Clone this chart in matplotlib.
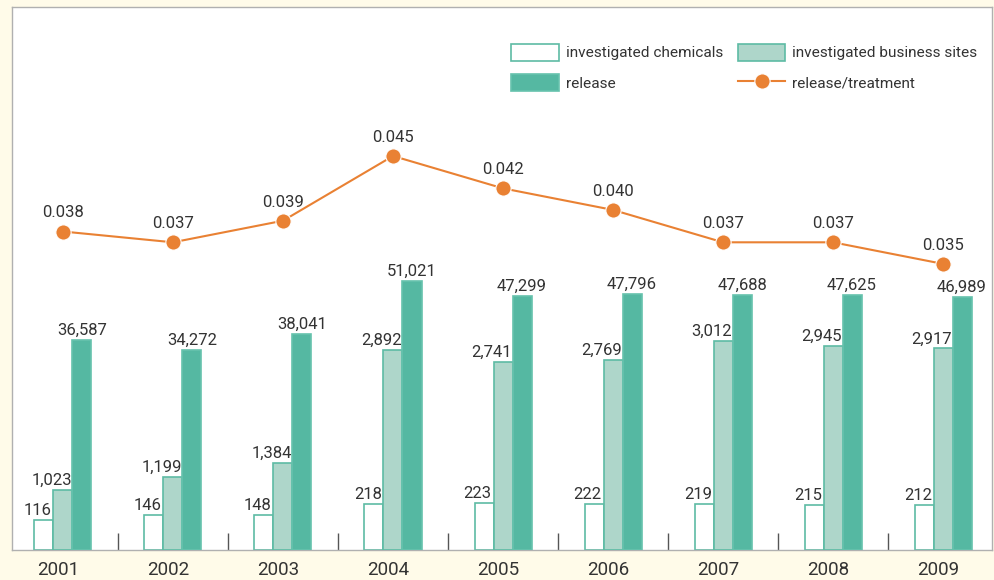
import numpy as np
import matplotlib
matplotlib.use("Agg")
import matplotlib.pyplot as plt
from matplotlib.lines import Line2D
from matplotlib.patches import Patch

plt.rcParams['font.family'] = ['Roboto', 'DejaVu Sans']

years = ["2001", "2002", "2003", "2004", "2005", "2006", "2007", "2008", "2009"]
chemicals = [116, 146, 148, 218, 223, 222, 219, 215, 212]
sites = [1023, 1199, 1384, 2892, 2741, 2769, 3012, 2945, 2917]
release = [36587, 34272, 38041, 51021, 47299, 47796, 47688, 47625, 46989]
ratio = [0.038, 0.037, 0.039, 0.045, 0.042, 0.040, 0.037, 0.037, 0.035]

BG = "#fffbe9"
TXT = "#333333"
EDGE = "#5dbba4"
LIGHT = "#aed6ca"
DARK = "#55b8a2"
ORANGE = "#e98133"

fig = plt.figure(figsize=(9.95, 5.8), dpi=100, facecolor=BG)
ax = fig.add_axes([12 / 995, 30 / 580, 980 / 995, 543 / 580])
ax.set_facecolor("white")
for s in ax.spines.values():
    s.set_color("#b0b0b0")
    s.set_linewidth(1.0)

x = np.arange(len(years))
w = 19 / 110

# each series sits on its own scale (the source chart is not to one scale)
ax_s = ax.twinx()
ax_r = ax.twinx()
ax_l = ax.twinx()

ax.set_ylim(-76, 3414)
ax_s.set_ylim(226, 7475)
ax_r.set_ylim(-14600, 117800)
ax_l.set_ylim(0.00848, 0.05881)

def draw_bars(a, vals, offset, face, edge, dx_pt):
    lo = a.get_ylim()[0]
    v = np.array(vals, dtype=float)
    a.bar(x + offset, v - lo, bottom=lo, width=w, color=face,
          edgecolor=edge, linewidth=1.2, zorder=2)
    for xi, vi in zip(x + offset, vals):
        a.annotate(f"{vi:,}", (xi, vi), xytext=(dx_pt, 1.5),
                   textcoords="offset points", ha="center", va="bottom",
                   fontsize=12, color=TXT)

draw_bars(ax, chemicals, -w, "white", EDGE, -4.5)
draw_bars(ax_s, sites, 0, LIGHT, EDGE, -8)
draw_bars(ax_r, release, w, DARK, "#66c2ad", 0)

ax_l.plot(x, ratio, color=ORANGE, lw=1.5, marker="o", ms=11,
          markeredgecolor="white", markeredgewidth=0.8, zorder=5)
for xi, vi in zip(x, ratio):
    ax_l.annotate(f"{vi:.3f}", (xi, vi), xytext=(0, 8),
                  textcoords="offset points", ha="center", va="bottom",
                  fontsize=12, color=TXT)

for a in (ax_s, ax_r, ax_l):
    for s in a.spines.values():
        s.set_visible(False)
    a.set_yticks([])

ax.set_xlim(-0.4636, 8.4454)
ax.set_yticks([])
ax.set_xticks(x[:-1] + 0.5)
ax.tick_params(axis="x", which="major", direction="in", length=12,
               color="#555555", width=1.0, labelbottom=False)
ax.set_xticks(x - 0.045, minor=True)
ax.set_xticklabels(years, minor=True)
ax.tick_params(axis="x", which="minor", length=0, pad=8,
               labelsize=13.5, labelcolor=TXT)

handles = [
    Patch(facecolor="white", edgecolor=EDGE, linewidth=1.2),
    Patch(facecolor=DARK, edgecolor="#66c2ad", linewidth=1.2),
    Patch(facecolor=LIGHT, edgecolor=EDGE, linewidth=1.2),
    Line2D([], [], color=ORANGE, lw=1.5, marker="o", ms=11,
           markeredgecolor="white", markeredgewidth=0.8),
]
names = ["investigated chemicals", "release",
         "investigated business sites", "release/treatment"]
leg = fig.legend(handles, names, ncol=2, loc="upper left",
                 bbox_to_anchor=(511 / 995, 1 - 44 / 580),
                 frameon=False, fontsize=11.1, handlelength=3.1,
                 handleheight=1.28, handletextpad=0.45, columnspacing=0.95,
                 labelspacing=0.9, borderpad=0, borderaxespad=0)
for t in leg.get_texts():
    t.set_color(TXT)

fig.savefig("out.png", dpi=100, facecolor=BG)
